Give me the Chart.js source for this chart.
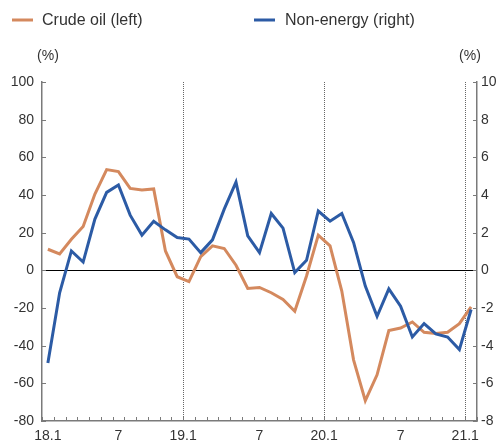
<!DOCTYPE html>
<html>
<head>
<meta charset="utf-8">
<script src="https://cdn.jsdelivr.net/npm/chart.js@4"></script>
<style>
  html, body { margin: 0; padding: 0; background: #fff; }
  #wrap { width: 500px; height: 447px; position: relative; }
</style>
</head>
<body>
<div id="wrap"><canvas id="oilChart"></canvas></div>
<script>
  // months 18.1 .. 21.1
  const months = [
    '18.1','18.2','18.3','18.4','18.5','18.6','18.7','18.8','18.9','18.10','18.11','18.12',
    '19.1','19.2','19.3','19.4','19.5','19.6','19.7','19.8','19.9','19.10','19.11','19.12',
    '20.1','20.2','20.3','20.4','20.5','20.6','20.7','20.8','20.9','20.10','20.11','20.12',
    '21.1'
  ];
  // crude oil, left axis (%)
  const crudeOil = [
    11.2, 8.7, 16.5, 23.3, 40.5, 53.5, 52.4, 43.5, 42.7, 43.2, 10.3, -3.4,
    -6.0, 7.3, 13.0, 11.6, 2.7, -9.6, -9.1, -11.9, -15.5, -21.7, -3.0, 18.7,
    13.0, -11.0, -47.5, -69.2, -55.5, -32.0, -30.6, -27.4, -32.9, -33.6, -32.9, -28.3,
    -19.4
  ];
  // non-energy, right axis (%)
  const nonEnergy = [
    -4.92, -1.19, 1.03, 0.44, 2.72, 4.14, 4.53, 2.93, 1.87, 2.61, 2.15, 1.74,
    1.66, 0.94, 1.62, 3.25, 4.68, 1.83, 0.94, 3.02, 2.24, -0.12, 0.53, 3.15,
    2.61, 3.02, 1.48, -0.84, -2.44, -0.98, -1.9, -3.54, -2.83, -3.38, -3.54, -4.21,
    -2.08
  ];
  const xTickLabels = ['18.1', '7', '19.1', '7', '20.1', '7', '21.1'];

  const orange = '#d4895e';
  const blue = '#2c5ba5';
  const axisColor = '#7a7a7a';
  const textColor = '#333333';

  // year starts sit on the month boundary (first one excepted), '7' on the month itself
  const xTickValues = [];
  let curYear = 18;
  xTickLabels.forEach(function (lbl) {
    if (lbl.includes('.')) {
      const i = months.indexOf(lbl);
      xTickValues.push(i === 0 ? 0 : i - 0.5);
      curYear = parseInt(lbl, 10);
    } else {
      xTickValues.push(months.indexOf(curYear + '.' + lbl));
    }
  });
  const yearLines = xTickValues.filter(v => v % 1 !== 0);

  const toPoints = arr => arr.map((v, i) => ({ x: i, y: v }));

  const decorPlugin = {
    id: 'decor',
    afterDraw(chart) {
      const c = chart.ctx;
      const a = chart.chartArea;
      const sx = chart.scales.x, sy = chart.scales.y, sy1 = chart.scales.y1;
      c.save();
      c.strokeStyle = axisColor;
      c.lineWidth = 1;
      c.beginPath();
      // inner tick marks
      for (let i = 0; i <= months.length; i++) {
        const px = Math.round(sx.getPixelForValue(i - 0.5)) + 0.5;
        c.moveTo(px, a.bottom);
        c.lineTo(px, a.bottom - 4);
      }
      sy.ticks.forEach(t => {
        const py = Math.round(sy.getPixelForValue(t.value)) + 0.5;
        c.moveTo(a.left, py);
        c.lineTo(a.left + 4, py);
      });
      sy1.ticks.forEach(t => {
        const py = Math.round(sy1.getPixelForValue(t.value)) + 0.5;
        c.moveTo(a.right, py);
        c.lineTo(a.right - 4, py);
      });
      c.stroke();

      // unit labels
      c.fillStyle = textColor;
      c.font = '14px "Liberation Sans", Arial, sans-serif';
      c.textAlign = 'center';
      c.textBaseline = 'middle';
      c.fillText('(%)', 48, 56);
      c.fillText('(%)', 470, 56);

      // legend
      c.lineWidth = 3;
      c.strokeStyle = orange;
      c.beginPath(); c.moveTo(12, 20); c.lineTo(33, 20); c.stroke();
      c.strokeStyle = blue;
      c.beginPath(); c.moveTo(254, 20); c.lineTo(275, 20); c.stroke();
      c.font = '16px "Liberation Sans", Arial, sans-serif';
      c.textAlign = 'left';
      c.fillText('Crude oil (left)', 42, 21);
      c.fillText('Non-energy (right)', 285, 21);
      c.restore();
    }
  };

  const ctx = document.getElementById('oilChart').getContext('2d');
  const oilChart = new Chart(ctx, {
    type: 'line',
    data: {
      datasets: [
        {
          label: 'Non-energy (right)',
          data: toPoints(nonEnergy),
          yAxisID: 'y1',
          borderColor: blue,
          borderWidth: 3,
          pointRadius: 0,
          tension: 0,
          order: 0
        },
        {
          label: 'Crude oil (left)',
          data: toPoints(crudeOil),
          yAxisID: 'y',
          borderColor: orange,
          borderWidth: 3,
          pointRadius: 0,
          tension: 0,
          order: 1
        }
      ]
    },
    options: {
      responsive: true,
      maintainAspectRatio: false,
      animation: false,
      layout: { padding: { top: 82, left: 0, right: 0, bottom: 0 } },
      plugins: { legend: { display: false }, tooltip: { enabled: false } },
      scales: {
        x: {
          type: 'linear',
          min: -0.5,
          max: months.length - 0.5,
          afterBuildTicks: s => { s.ticks = xTickValues.map(v => ({ value: v })); },
          afterFit: s => { s.height = 26; },
          ticks: {
            autoSkip: false,
            maxRotation: 0,
            padding: 7,
            color: textColor,
            font: { family: '"Liberation Sans", Arial, sans-serif', size: 14 },
            callback: (v) => xTickLabels[xTickValues.indexOf(v)]
          },
          grid: {
            drawTicks: false,
            lineWidth: 1,
            color: c => (c.tick && yearLines.includes(c.tick.value)) ? '#666' : 'rgba(0,0,0,0)'
          },
          border: { color: axisColor, width: 1.5, dash: [1, 1] }
        },
        y: {
          position: 'left',
          min: -80,
          max: 100,
          afterFit: s => { s.width = 42; },
          ticks: {
            stepSize: 20,
            padding: 8,
            color: textColor,
            font: { family: '"Liberation Sans", Arial, sans-serif', size: 14 }
          },
          grid: {
            drawTicks: false,
            lineWidth: 1,
            color: c => (c.tick && c.tick.value === 0) ? '#000' : 'rgba(0,0,0,0)'
          },
          border: { color: axisColor, width: 1.5 }
        },
        y1: {
          position: 'right',
          min: -8,
          max: 10,
          afterFit: s => { s.width = 23; },
          ticks: {
            stepSize: 2,
            padding: 4,
            color: textColor,
            font: { family: '"Liberation Sans", Arial, sans-serif', size: 14 }
          },
          grid: { drawTicks: false, drawOnChartArea: false },
          border: { color: axisColor, width: 1.5 }
        }
      }
    },
    plugins: [decorPlugin]
  });
</script>
</body>
</html>
